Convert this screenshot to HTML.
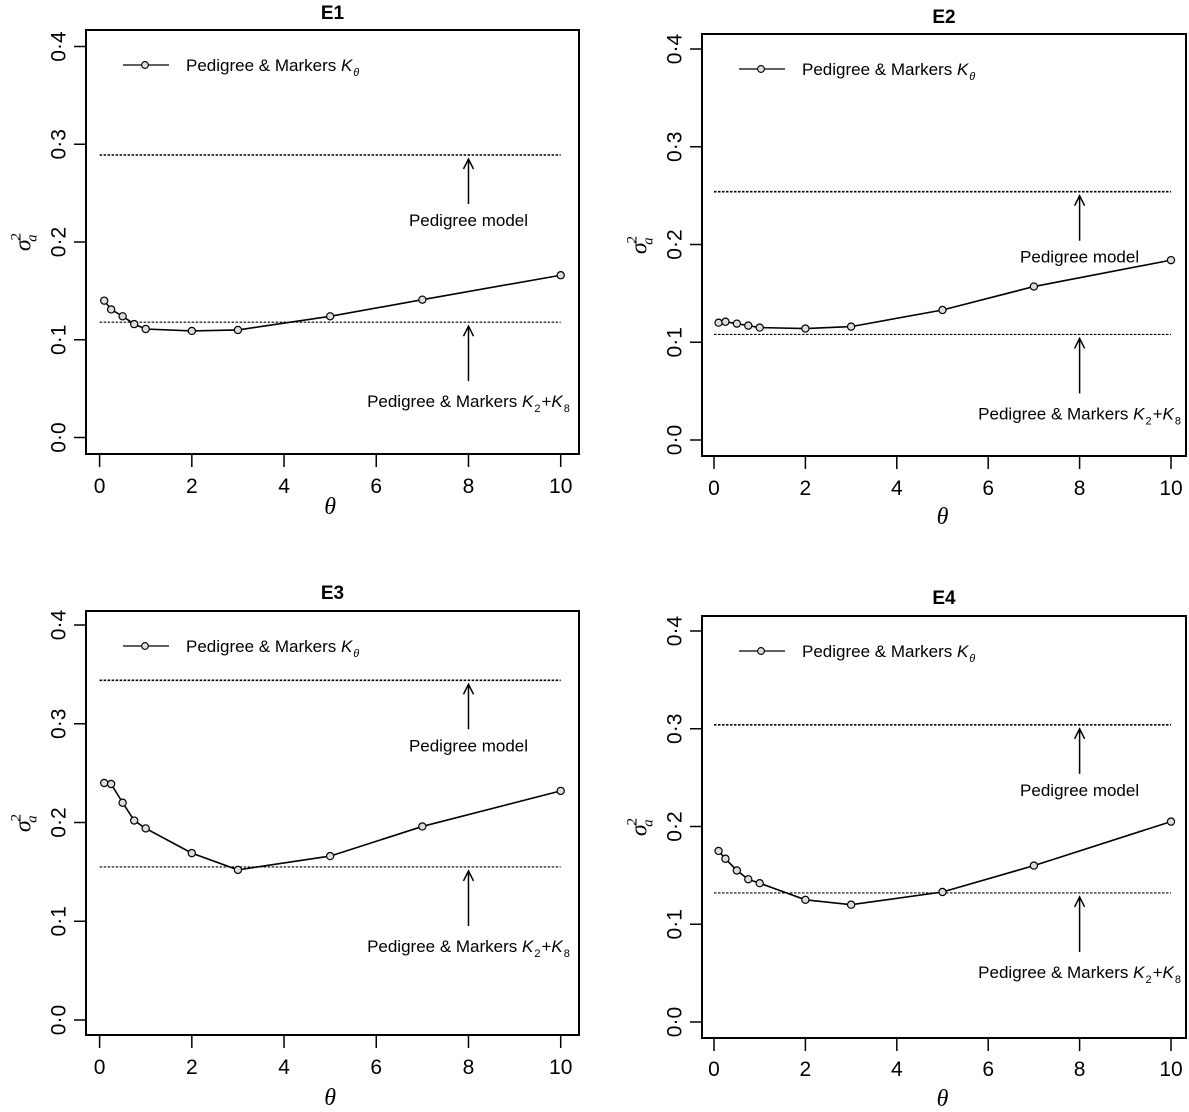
<!DOCTYPE html>
<html><head><meta charset="utf-8"><style>
html,body{margin:0;padding:0;background:#fff;}
svg{display:block;font-family:"Liberation Sans",Arial,sans-serif;}
</style></head><body>
<svg id="fig" width="1189" height="1112" viewBox="0 0 1189 1112" xmlns="http://www.w3.org/2000/svg"></svg>
<script>
const thetaValues = [0.1, 0.25, 0.5, 0.75, 1, 2, 3, 5, 7, 10];
const xTicks = [0, 2, 4, 6, 8, 10];
const yTicks = [0, 0.1, 0.2, 0.3, 0.4];
const yTickLabels = ["0\u00B70", "0\u00B71", "0\u00B72", "0\u00B73", "0\u00B74"];
const panelTitles = ["E1", "E2", "E3", "E4"];
const e1Values = [0.140, 0.131, 0.124, 0.116, 0.111, 0.109, 0.110, 0.124, 0.141, 0.166];
const e2Values = [0.120, 0.121, 0.119, 0.117, 0.115, 0.114, 0.116, 0.133, 0.157, 0.184];
const e3Values = [0.240, 0.239, 0.220, 0.202, 0.194, 0.169, 0.152, 0.166, 0.196, 0.232];
const e4Values = [0.175, 0.167, 0.155, 0.146, 0.142, 0.125, 0.120, 0.133, 0.160, 0.205];
const pedigreeLevels = [0.289, 0.254, 0.344, 0.304];
const markerLevels = [0.118, 0.108, 0.155, 0.132];
const seriesValues = [e1Values, e2Values, e3Values, e4Values];

const NS = "http://www.w3.org/2000/svg";
const svg = document.getElementById("fig");
function mk(tag, attrs, parent) {
  const el = document.createElementNS(NS, tag);
  for (const k in attrs) el.setAttribute(k, attrs[k]);
  (parent || svg).appendChild(el);
  return el;
}
const layouts = [
  {L:86, R:579, T:30, B:454, x0:99.6, x10:560.7, y0:437.5, y4:46.5, title:12, tickLab:485, xlab:506, ylabX:22},
  {L:702, R:1186, T:34, B:456, x0:714, x10:1171, y0:440, y4:49, title:16, tickLab:487, xlab:516, ylabX:638},
  {L:86, R:579, T:611, B:1035, x0:99.6, x10:560.7, y0:1020, y4:625, title:592, tickLab:1066, xlab:1097, ylabX:22},
  {L:702, R:1186, T:616, B:1038, x0:714, x10:1171, y0:1022, y4:631, title:597, tickLab:1068, xlab:1098, ylabX:638}
];
layouts.forEach((p, i) => {
  const g = mk("g", {});
  
  
  const xs = v => p.x0 + (p.x10 - p.x0) * v / 10;
  const ys = v => p.y0 + (p.y4 - p.y0) * v / 0.4;
  const cx = (p.L + p.R) / 2, cy = (p.T + p.B) / 2;
  const t = mk("text", {x: cx, y: p.title + 7, "text-anchor": "middle", "font-size": 19, "font-weight": "bold"}, g);
  t.textContent = panelTitles[i];
  
  
  const box = mk("rect", {x: p.L, y: p.T, width: p.R - p.L, height: p.B - p.T, fill: "none", stroke: "#000", "stroke-width": 2}, g);
  
  
  xTicks.forEach(v => {
    const tk = mk("line", {x1: xs(v), x2: xs(v), y1: p.B, y2: p.B + 13, stroke: "#000", "stroke-width": 1.5}, g);
    
    
    const lb = mk("text", {x: xs(v), y: p.tickLab + 8, "text-anchor": "middle", "font-size": 21}, g);
    lb.textContent = v;
    
    
  });
  const xl = mk("text", {x: (xs(0)+xs(10))/2, y: p.xlab + 8, "text-anchor": "middle", "font-size": 24, "font-style": "italic", "font-family": "Liberation Serif, serif"}, g);
  xl.textContent = "\u03B8";
  
  
  yTicks.forEach((v, k) => {
    const tk = mk("line", {x1: p.L - 12, x2: p.L, y1: ys(v), y2: ys(v), stroke: "#000", "stroke-width": 1.5}, g);
    
    
    const lx = p.L - 28;
    const lb = mk("text", {x: lx, y: ys(v), "text-anchor": "middle", "font-size": 21, transform: `rotate(-90 ${lx} ${ys(v)})`, dy: "0.35em"}, g);
    lb.textContent = yTickLabels[k];
    
    
  });
  const yl = mk("text", {x: p.ylabX, y: cy, "text-anchor": "middle", "font-size": 24, "font-family": "Liberation Serif, serif", transform: `rotate(-90 ${p.ylabX} ${cy})`, dy: "0.35em"}, g);
  yl.innerHTML = '<tspan font-style="italic">\u03C3</tspan><tspan font-size="15" dy="-10" dx="-1">2</tspan><tspan font-size="15" font-style="italic" dy="16" dx="-9">a</tspan>';
  
  
  const pl = mk("line", {x1: xs(0), x2: xs(10), y1: ys(pedigreeLevels[i]), y2: ys(pedigreeLevels[i]), stroke: "#000", "stroke-width": 1.6, "stroke-dasharray": "2.5 1.5"}, g);
  
  
  const ml = mk("line", {x1: xs(0), x2: xs(10), y1: ys(markerLevels[i]), y2: ys(markerLevels[i]), stroke: "#000", "stroke-width": 1.1, "stroke-dasharray": "2.5 1.5"}, g);
  
  
  function arrow(level, len, textOff, html, name) {
    const ax = xs(8), tip = ys(level) + 4, tail = tip + len;
    const a = mk("path", {d: `M${ax} ${tail} L${ax} ${tip} M${ax-5} ${tip+10} L${ax} ${tip} L${ax+5} ${tip+10}`, fill: "none", stroke: "#000", "stroke-width": 1.5}, g);
    
    
    const tx = mk("text", {x: ax, y: ys(level) + textOff + 6, "text-anchor": "middle", "font-size": 17}, g);
    tx.innerHTML = html;
    
    
  }
  arrow(pedigreeLevels[i], 45, 65, "Pedigree model", "pedigree-model");
  arrow(markerLevels[i], 55, 79, 'Pedigree &amp; Markers <tspan font-style="italic">K</tspan><tspan font-size="11" dy="5" dx="1">2</tspan><tspan dy="-5" dx="1">+</tspan><tspan font-style="italic">K</tspan><tspan font-size="11" dy="5" dx="1">8</tspan>', "markers-k2-k8");
  const vals = seriesValues[i];
  const pts = thetaValues.map((th, k) => `${xs(th)},${ys(vals[k])}`).join(" ");
  const line = mk("polyline", {points: pts, fill: "none", stroke: "#000", "stroke-width": 1.6}, g);
  
  
  thetaValues.forEach((th, k) => {
    const c = mk("circle", {cx: xs(th), cy: ys(vals[k]), r: 3.6, fill: "#ddd", stroke: "#000", "stroke-width": 1.2}, g);
    
    
  });
  const ly = p.T + 35;
  const lg = mk("g", {}, g);
  
  
  mk("line", {x1: p.L + 37, x2: p.L + 83, y1: ly, y2: ly, stroke: "#000", "stroke-width": 1.3}, lg);
  mk("circle", {cx: p.L + 59, cy: ly, r: 3.4, fill: "#ddd", stroke: "#000", "stroke-width": 1.1}, lg);
  const lt = mk("text", {x: p.L + 100, y: ly + 6, "font-size": 17}, lg);
  lt.innerHTML = 'Pedigree &amp; Markers <tspan font-style="italic">K</tspan><tspan font-size="11" font-style="italic" dy="5" dx="1">\u03B8</tspan>';
});
</script>
</body></html>
